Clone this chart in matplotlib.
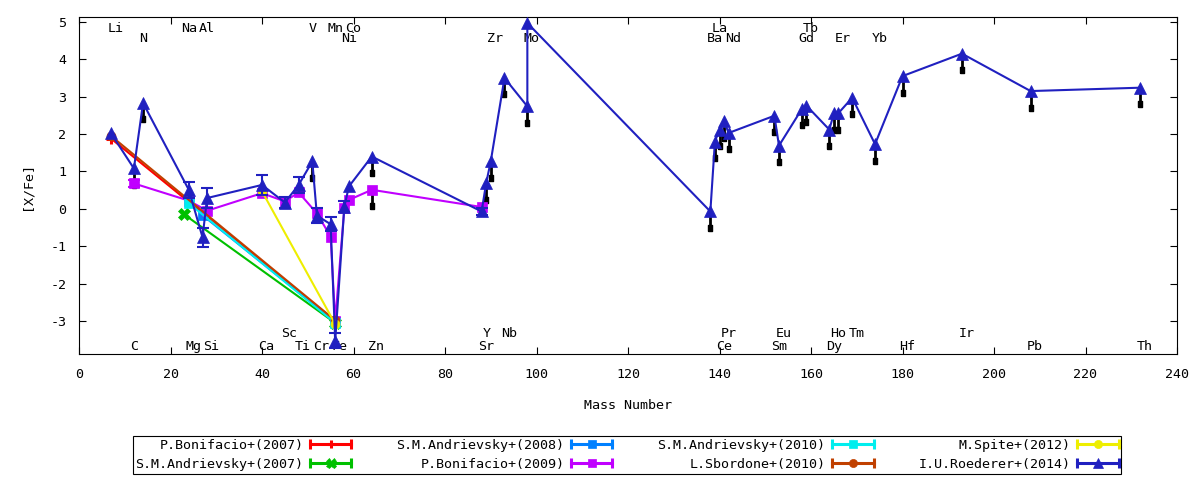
import matplotlib
matplotlib.use("Agg")
import matplotlib.pyplot as plt
import numpy as np
from matplotlib.legend_handler import HandlerBase
from matplotlib.lines import Line2D
from matplotlib.transforms import blended_transform_factory

plt.rcParams['font.family'] = ['DejaVu Sans Mono']
plt.rcParams['font.size'] = 9.6
plt.rcParams['axes.unicode_minus'] = False

############### DATOS ###############
bon07_mass = [7, 56]
bon07_xfe = [1.88, -3.00]

andr07_mass = [23, 56]
andr07_xfe = [-0.15, -3.05]

andr08_mass = [27, 56]
andr08_xfe = [-0.17, -3.02]

bon09_mass = [12, 24, 28, 40, 45, 48, 52, 55, 56, 58, 59, 64, 88]
bon09_xfe = [0.68, 0.22, -0.05, 0.42, 0.20, 0.44, -0.12, -0.74, -3.00, 0.03, 0.24, 0.51, 0.05]
bon09_err = [0.10, 0, 0, 0, 0, 0, 0, 0, 0, 0, 0, 0, 0]
bon09_ul = [0, 0, 0, 0, 0, 0, 0, 0, 0, 0, 0, 1, 0]

andr10_mass = [24, 56]
andr10_xfe = [0.15, -3.05]

sbo10_mass = [7, 56]
sbo10_xfe = [1.95, -2.98]

spite12_mass = [40, 56]
spite12_xfe = [0.47, -3.08]

roed14_mass = [7, 12, 14, 24, 27, 28, 40, 45, 48, 51, 52, 55, 56, 58, 59, 64,
               88, 89, 90, 93, 98, 98, 138, 139, 140, 141, 142, 152, 153, 158,
               159, 164, 165, 166, 169, 174, 180, 193, 208, 232]
roed14_xfe = [2.02, 1.08, 2.83, 0.51, -0.76, 0.29, 0.64, 0.17, 0.64, 1.27, -0.18, -0.41,
              -3.53, 0.06, 0.60, 1.40, -0.07, 0.69, 1.27, 3.50, 2.74, 4.97, -0.07, 1.80,
              2.12, 2.34, 2.03, 2.49, 1.69, 2.67, 2.76, 2.12, 2.55, 2.56, 2.97, 1.73,
              3.55, 4.15, 3.15, 3.24]
roed14_err = [0, 0, 0, 0.22, 0.25, 0.26, 0.27, 0.15, 0.22, 0, 0.20, 0.19,
              0.20, 0.15, 0, 0, 0.10, 0, 0, 0, 0, 0, 0, 0,
              0, 0, 0, 0, 0, 0, 0, 0, 0, 0, 0, 0,
              0, 0, 0, 0]
roed14_ul = [0, 1, 1, 0, 0, 0, 0, 0, 0, 1, 0, 0, 0, 0, 0, 1,
             0, 1, 1, 1, 1, 0, 1, 1, 1, 1, 1, 1, 1, 1,
             1, 1, 1, 1, 1, 1, 1, 1, 1, 1]

# etiquetas de elementos: fila t1/t2 arriba, b1/b2 abajo
elem_names = ['Li', 'C', 'N', 'Na', 'Mg', 'Al', 'Si', 'Ca', 'Sc', 'Ti', 'V', 'Cr', 'Mn',
              'Fe', 'Ni', 'Co', 'Zn', 'Sr', 'Y', 'Zr', 'Nb', 'Mo', 'Ba', 'La', 'Ce',
              'Pr', 'Nd', 'Sm', 'Eu', 'Gd', 'Tb', 'Dy', 'Ho', 'Er', 'Tm', 'Yb', 'Hf',
              'Ir', 'Pb', 'Th']
elem_mass = [7, 12, 14, 23, 24, 27, 28, 40, 45, 48, 51, 52, 55, 56, 58, 59, 64, 88, 89,
             90, 93, 98, 138, 139, 140, 141, 142, 152, 153, 158, 159, 164, 165, 166,
             169, 174, 180, 193, 208, 232]
elem_row = ['t1', 'b2', 't2', 't1', 'b2', 't1', 'b2', 'b2', 'b1', 'b2', 't1', 'b2', 't1',
            'b2', 't2', 't1', 'b2', 'b2', 'b1', 't2', 'b1', 't2', 't2', 't1', 'b2',
            'b1', 't2', 'b2', 'b1', 't2', 't1', 'b2', 'b1', 't2', 'b1', 't2', 'b2',
            'b1', 'b2', 'b2']
row_y = {'t1': 0.956, 't2': 0.926, 'b1': 0.051, 'b2': 0.012}

############### GRÁFICA ###############
fig = plt.figure(figsize=(12, 4.8), dpi=100)
ax = fig.add_axes([79 / 1200, 1 - 354 / 480, 1098 / 1200, 337 / 480])

LW = 1.5
series = [
    ("P.Bonifacio+(2007)", bon07_mass, bon07_xfe, "#ff0000", "+", 7, 2.2),
    ("S.M.Andrievsky+(2007)", andr07_mass, andr07_xfe, "#00c000", "X", 8, 0.5),
    ("S.M.Andrievsky+(2008)", andr08_mass, andr08_xfe, "#0080ff", "s", 6.5, 0.5),
    ("P.Bonifacio+(2009)", bon09_mass, bon09_xfe, "#c000ff", "s", 6.5, 0.5),
    ("S.M.Andrievsky+(2010)", andr10_mass, andr10_xfe, "#00eeee", "s", 6.5, 0.5),
    ("L.Sbordone+(2010)", sbo10_mass, sbo10_xfe, "#c04000", "o", 6.5, 0.5),
    ("M.Spite+(2012)", spite12_mass, spite12_xfe, "#eeee00", "o", 6.5, 0.5),
    ("I.U.Roederer+(2014)", roed14_mass, roed14_xfe, "#2020c0", "^", 8, 0.5),
]

handles = []
for i, (name, m, v, col, mk, ms, mew) in enumerate(series):
    ln, = ax.plot(m, v, color=col, lw=LW, marker=mk, ms=ms, mew=mew,
                  label=name, zorder=3 + i * 0.2)
    handles.append(ln)

# barras de error
def barras(m, v, e, col, z):
    m = np.array(m); v = np.array(v); e = np.array(e)
    k = e > 0
    ax.errorbar(m[k], v[k], yerr=e[k], fmt='none', ecolor=col, elinewidth=LW,
                capsize=4, capthick=LW, zorder=z)

barras(bon09_mass, bon09_xfe, bon09_err, "#c000ff", 3.5)
barras(roed14_mass, roed14_xfe, roed14_err, "#2020c0", 4.3)

# límites superiores (flechas negras)
blob = [(-0.3, -0.5), (0.3, -0.5), (0.3, 0.5), (-0.3, 0.5), (-0.3, -0.5)]
for m, v, ul in [(bon09_mass, bon09_xfe, bon09_ul), (roed14_mass, roed14_xfe, roed14_ul)]:
    m = np.array(m); v = np.array(v); k = np.array(ul) == 1
    ax.vlines(m[k], v[k] - 0.5, v[k], color='black', lw=2.0, zorder=2.5)
    ax.plot(m[k], v[k] - 0.44, ls='none', marker=blob, ms=4.5, color='black', zorder=2.5)

# etiquetas de elementos
tr = blended_transform_factory(ax.transData, ax.transAxes)
for n, m, r in zip(elem_names, elem_mass, elem_row):
    ax.annotate(n, (m, row_y[r]), xycoords=tr, xytext=(-3.5, 0), textcoords='offset pixels',
                ha='left', va='baseline', zorder=1)

ax.set_xlim(0, 240)
ax.set_ylim(-3.88, 5.13)
ax.set_xticks(np.arange(0, 241, 20))
ax.set_yticks(np.arange(-3, 6, 1))
ax.tick_params(direction='in', length=5, width=0.8, top=True, right=True, pad=9)
ax.tick_params(axis='x', pad=10)
for s in ax.spines.values():
    s.set_linewidth(0.8)
ax.set_xlabel('Mass Number', labelpad=13)
ax.set_ylabel('[X/Fe]', labelpad=12)


class ErrSample(HandlerBase):
    def create_artists(self, legend, orig_handle, xdescent, ydescent, width, height,
                       fontsize, trans):
        y = height / 2 - ydescent
        x0, x1 = -xdescent, width - xdescent
        col = orig_handle.get_color()
        a = Line2D([x0, x1], [y, y], color=col, lw=2.2, transform=trans)
        b = Line2D([x0, x1], [y, y], ls='none', marker='|', ms=7, mew=2.2,
                   color=col, transform=trans)
        c = Line2D([(x0 + x1) / 2], [y], ls='none', marker=orig_handle.get_marker(),
                   ms=orig_handle.get_markersize() * 0.9,
                   mew=orig_handle.get_markeredgewidth(), color=col, transform=trans)
        return [a, b, c]


leg = fig.legend(handles=handles, ncol=4, markerfirst=False, mode='expand',
                 loc='center', bbox_to_anchor=(126 / 1200, 0.0521 - 0.04, 1002 / 1200, 0.08),
                 bbox_transform=fig.transFigure, handler_map={Line2D: ErrSample()},
                 handlelength=3.1, handletextpad=0.5, labelspacing=0.45, borderpad=0.2,
                 fancybox=False, framealpha=1, edgecolor='black')
leg.get_frame().set_linewidth(0.8)

fig.savefig('out.png', dpi=100)
